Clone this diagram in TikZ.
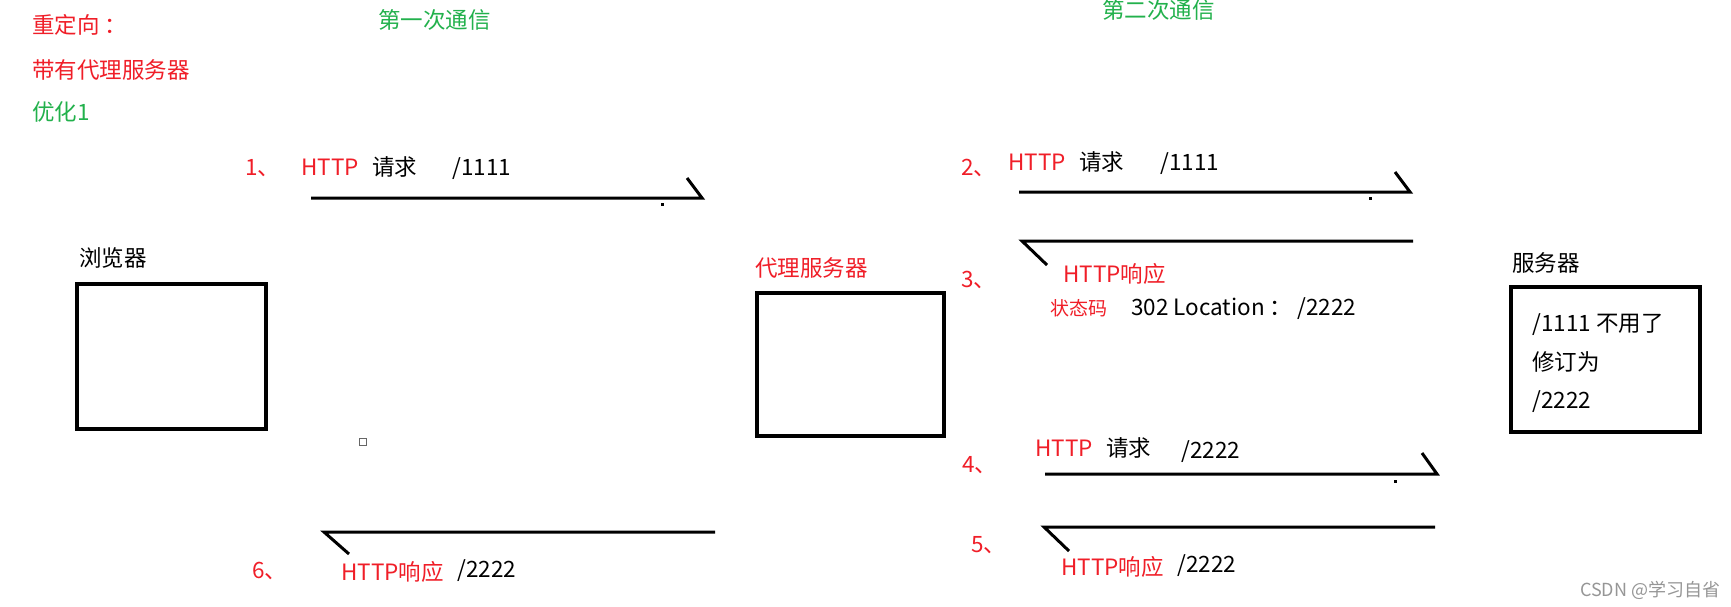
\documentclass[tikz,border=0pt]{standalone}
\usepackage{fontspec}
\newfontfamily\cjk{Noto Sans CJK SC}
\definecolor{pred}{RGB}{240,30,40}
\definecolor{pgreen}{RGB}{34,177,76}
\definecolor{wmgray}{RGB}{150,150,150}
\begin{document}
\begin{tikzpicture}[x=1pt,y=-1pt,
  txt/.style={anchor=base west,inner sep=0pt,font=\cjk\fontsize{22.5}{26}\selectfont},
  rtxt/.style={txt,text=pred},
  gtxt/.style={txt,text=pgreen},
  small/.style={anchor=base west,inner sep=0pt,font=\cjk\fontsize{19}{22}\selectfont,text=pred},
  wm/.style={anchor=base west,inner sep=0pt,font=\cjk\fontsize{18}{20}\selectfont,text=wmgray},
  arr/.style={draw=black,line width=3pt,line cap=butt,line join=miter},
  dotm/.style={fill=black,minimum width=3pt,minimum height=3pt,inner sep=0pt}]
\useasboundingbox (0,0) rectangle (1731,606);
\fill[white] (0,0) rectangle (1731,606);

% headings
\node[rtxt] (t1) at (32,33) {重定向 ：};
\node[rtxt] (t2) at (32,78) {带有代理服务器};
\node[gtxt] (t3) at (32,120) {优化1};
\node[gtxt] (c1) at (378,28) {第一次通信};
\node[gtxt] (c2) at (1102,18) {第二次通信};

% boxes
\draw[black,line width=3.5pt] (77,284) rectangle (266,429);
\node (browser) at (171.5,356.5) {};
\draw[black,line width=3.5pt] (757,293) rectangle (944,436);
\node (proxy) at (850.5,364.5) {};
\draw[black,line width=3.5pt] (1511,287) rectangle (1700,432);
\node (server) at (1605.5,359.5) {};
\node[txt] (lb) at (79,266) {浏览器};
\node[rtxt] (lp) at (755,276) {代理服务器};
\node[txt] (ls) at (1512,271) {服务器};
\node[txt] (s1) at (1532,331) {/1111 不用了};
\node[txt] (s2) at (1532,370) {修订为};
\node[txt] (s3) at (1532,408) {/2222};

% step 1
\node[rtxt] (n1) at (245,175) {1、};
\node[rtxt] (h1) at (301,175) {HTTP};
\node[txt] (q1) at (372,175) {请求};
\node[txt] (p1) at (452,175) {/1111};
\coordinate (a1s) at (311,198);
\coordinate (a1e) at (702,198);
\coordinate (a1t) at (687,178);
\draw[arr] (a1s) -- (a1e) -- (a1t);
\node[dotm] (d1) at (662,204) {};

% step 2
\node[rtxt] (n2) at (961,175) {2、};
\node[rtxt] (h2) at (1008,170) {HTTP};
\node[txt] (q2) at (1079,170) {请求};
\node[txt] (p2) at (1160,170) {/1111};
\coordinate (a2s) at (1019,192);
\coordinate (a2e) at (1410,192);
\coordinate (a2t) at (1395,172);
\draw[arr] (a2s) -- (a2e) -- (a2t);
\node[dotm] (d2) at (1370,198) {};

% step 3
\coordinate (a3s) at (1413,241);
\coordinate (a3e) at (1022,241);
\coordinate (a3t) at (1047,265);
\draw[arr] (a3s) -- (a3e) -- (a3t);
\node[rtxt] (n3) at (961,287) {3、};
\node[rtxt] (h3) at (1063,282) {HTTP响应};
\node[small] (z3) at (1050,315) {状态码};
\node[txt] (l3) at (1131,315) {302 Location ： /2222};

% step 4
\node[rtxt] (n4) at (962,472) {4、};
\node[rtxt] (h4) at (1035,456) {HTTP};
\node[txt] (q4) at (1106,456) {请求};
\node[txt] (p4) at (1181,458) {/2222};
\coordinate (a4s) at (1045,474);
\coordinate (a4e) at (1437,474);
\coordinate (a4t) at (1422,453);
\draw[arr] (a4s) -- (a4e) -- (a4t);
\node[dotm] (d4) at (1395,481) {};

% step 5
\coordinate (a5s) at (1435,527);
\coordinate (a5e) at (1044,527);
\coordinate (a5t) at (1069,551);
\draw[arr] (a5s) -- (a5e) -- (a5t);
\node[rtxt] (n5) at (971,552) {5、};
\node[rtxt] (h5) at (1061,575) {HTTP响应};
\node[txt] (p5) at (1177,572) {/2222};

% step 6
\coordinate (a6s) at (715,532);
\coordinate (a6e) at (324,532);
\coordinate (a6t) at (349,554);
\draw[arr] (a6s) -- (a6e) -- (a6t);
\node[rtxt] (n6) at (252,578) {6、};
\node[rtxt] (h6) at (341,580) {HTTP响应};
\node[txt] (p6) at (457,577) {/2222};

% tiny icon
\node[draw=gray!80!black,fill=white,line width=1pt,minimum width=7pt,minimum height=7pt,inner sep=0pt] (icon) at (362.5,442) {};

% watermark
\node[wm] (wmk) at (1580,596) {CSDN @学习自省};
\end{tikzpicture}
\end{document}
